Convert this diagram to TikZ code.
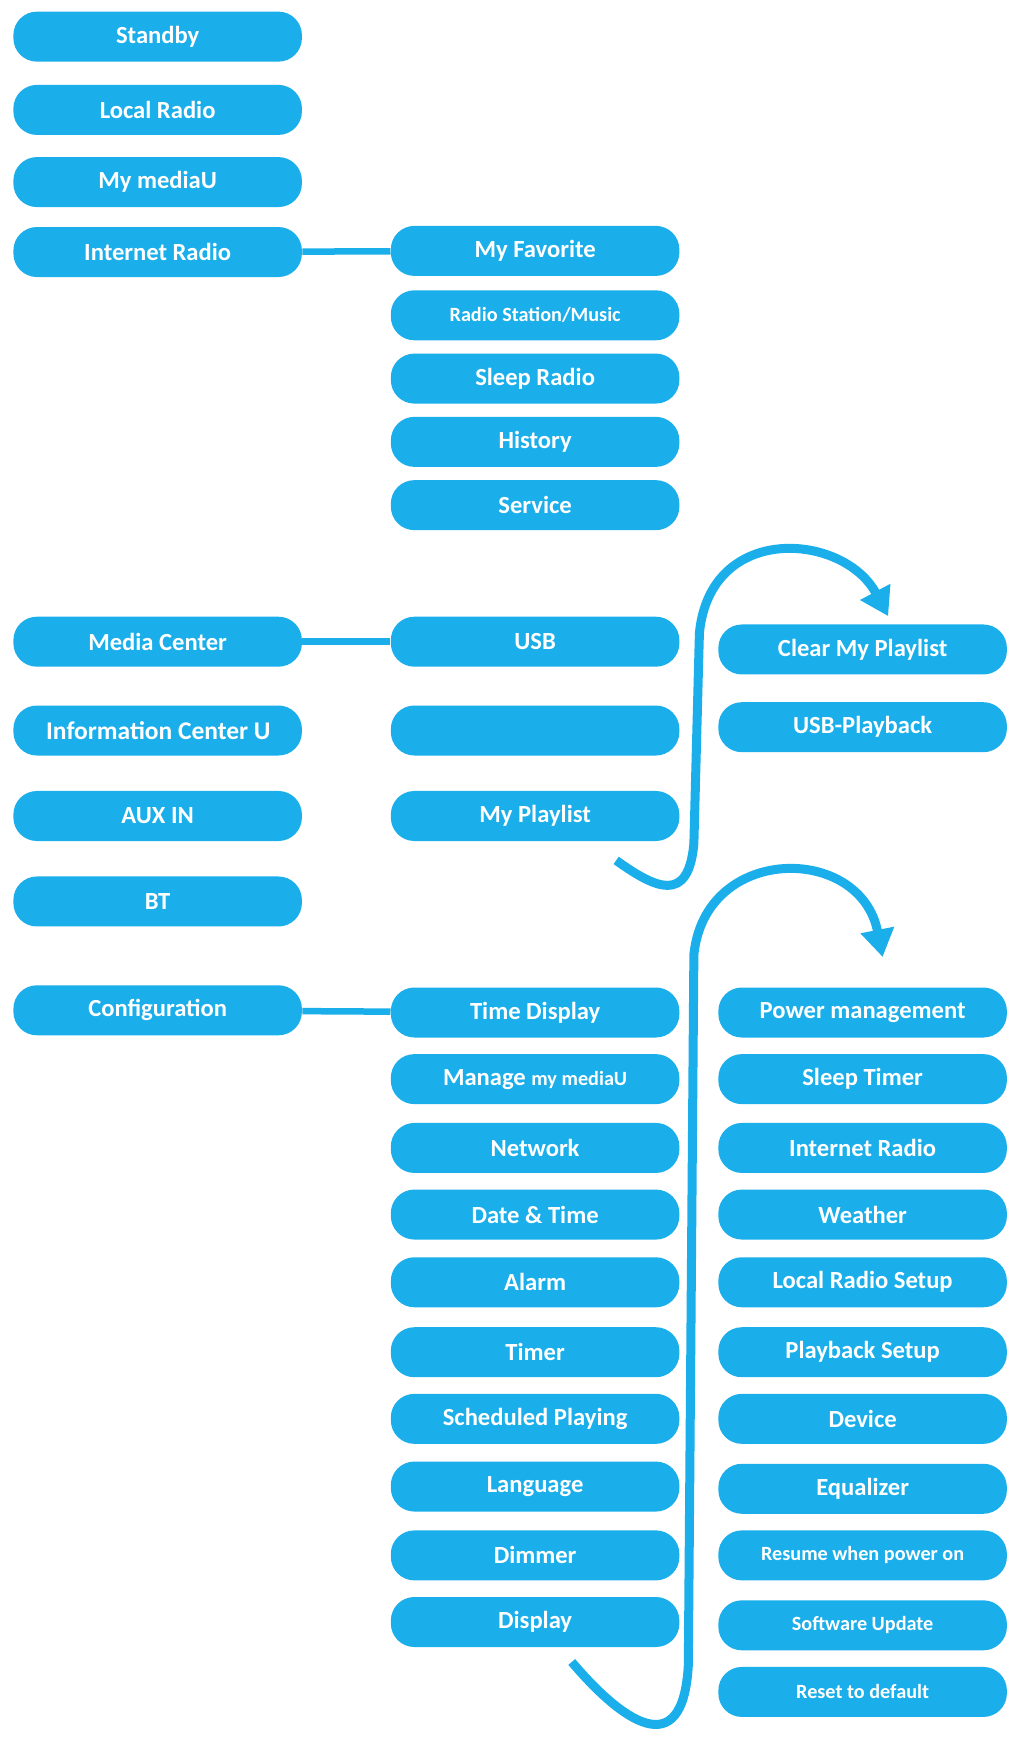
\documentclass[tikz,border=0pt]{standalone}
\usepackage{fontspec}
\setmainfont{Carlito}
\usetikzlibrary{arrows.meta}
\definecolor{menublue}{HTML}{1AAEEA}
\tikzset{
  item/.style={fill=menublue, text=white, font=\bfseries\fontsize{14}{16}\selectfont,
    minimum width=5.77cm, minimum height=1.0cm, rounded corners=0.47cm, inner sep=0pt},
  small/.style={item, font=\bfseries\fontsize{11.5}{13}\selectfont},
  link/.style={menublue, line width=1.3mm},
  jump/.style={menublue, line width=1.8mm, -{Triangle[length=5.5mm, width=6.5mm]}}
}
\begin{document}
\begin{tikzpicture}[x=0.0222cm, y=-0.0222cm]
  \useasboundingbox (0,0) rectangle (914,1570);
  % main menu
  \node[item] (standby) at (142,33) {Standby};
  \node[item] (local) at (142,99) {Local Radio};
  \node[item] (mediau) at (142,164) {My mediaU};
  \node[item] (inet) at (142,227) {Internet Radio};
  \node[item] (media) at (142,578) {Media Center};
  \node[item] (info) at (142,658) {};
  \begin{scope}
    \clip[rounded corners=0.47cm] (12,636) rectangle (272,680);
    \node[text=white, font=\bfseries\fontsize{14.5}{16}\selectfont, anchor=west] (infotxt) at (36,658) {Information Center U};
  \end{scope}
  \node[item] (aux) at (142,735) {AUX IN};
  \node[item] (bt) at (142,812) {BT};
  \node[item] (config) at (142,910) {Configuration};
  % internet radio
  \node[item] (fav) at (482,226) {My Favorite};
  \node[small] (station) at (482,284) {Radio Station/Music};
  \node[item] (sleep) at (482,341) {Sleep Radio};
  \node[item] (history) at (482,398) {History};
  \node[item] (service) at (482,455) {Service};
  % media center
  \node[item] (usb) at (482,578) {USB};
  \node[item] (blank) at (482,658) {};
  \node[item] (playlist) at (482,735) {My Playlist};
  \node[item] (clear) at (777,585) {Clear My Playlist};
  \node[item] (usbplay) at (777,655) {USB-Playback};
  % configuration
  \node[item] (time) at (482,912) {Time Display};
  \node[item] (manage) at (482,972) {Manage {\fontsize{11.5}{13}\selectfont my mediaU}};
  \node[item] (network) at (482,1034) {Network};
  \node[item] (date) at (482,1094) {Date \& Time};
  \node[item] (alarm) at (482,1155) {Alarm};
  \node[item] (timer) at (482,1218) {Timer};
  \node[item] (sched) at (482,1278) {Scheduled Playing};
  \node[item] (lang) at (482,1339) {Language};
  \node[item] (dimmer) at (482,1401) {Dimmer};
  \node[item] (display) at (482,1461) {Display};
  \node[item] (power) at (777,912) {Power management};
  \node[item] (sleept) at (777,972) {Sleep Timer};
  \node[item] (inetset) at (777,1034) {Internet Radio};
  \node[item] (weather) at (777,1094) {Weather};
  \node[item] (localset) at (777,1155) {Local Radio Setup};
  \node[item] (playset) at (777,1218) {Playback Setup};
  \node[item] (device) at (777,1278) {Device};
  \node[item] (eq) at (777,1341) {Equalizer};
  \node[small] (resume) at (777,1401) {Resume when power on};
  \node[small] (update) at (777,1464) {Software Update};
  \node[small] (reset) at (777,1524) {Reset to default};
  % links
  \draw[link] (inet) -- (fav);
  \draw[link] (media) -- (usb);
  \draw[link] (config) -- (time);
  % jumps
  \coordinate (j1) at (555,775);
  \coordinate (j2) at (800,555);
  \draw[jump] (j1) .. controls (590,800) and (620,815) .. (625,760)
    -- (630,570) .. controls (640,470) and (760,480) .. (j2);
  \coordinate (j3) at (515,1497);
  \coordinate (j4) at (795,862);
  \draw[jump] (j3) .. controls (560,1550) and (615,1590) .. (620,1500)
    -- (625,860) .. controls (635,760) and (775,760) .. (j4);
\end{tikzpicture}
\end{document}
